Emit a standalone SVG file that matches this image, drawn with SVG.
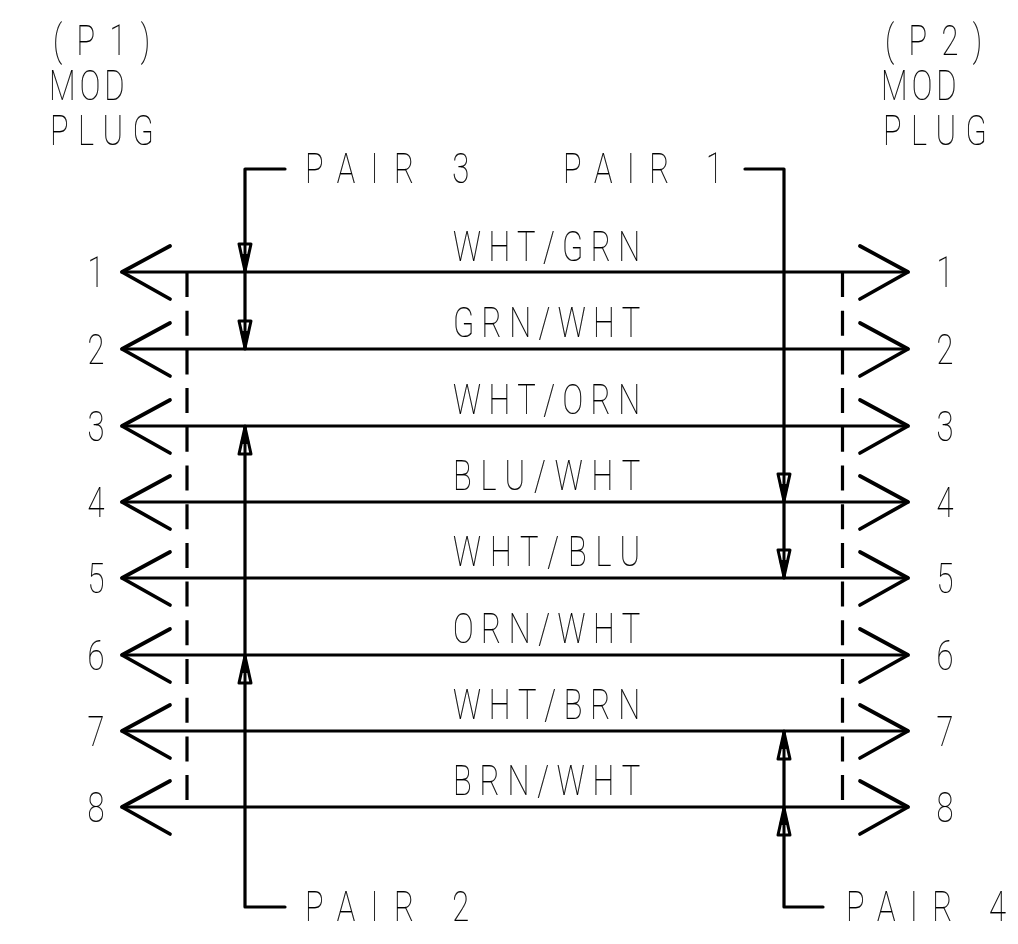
<svg xmlns="http://www.w3.org/2000/svg" xmlns:xlink="http://www.w3.org/1999/xlink" width="1018" height="944" viewBox="0 0 1018 944">
<style>
text{font-family:Roboto,"Liberation Sans",sans-serif;font-weight:100;font-size:43px;fill:#000;stroke:#000;stroke-width:.2}
.t{filter:url(#gray)}
.w{fill:none;stroke:#000;stroke-width:3.2;stroke-linecap:round;stroke-linejoin:round}
.c{fill:none;stroke:#000;stroke-width:3.7;stroke-linecap:round;stroke-linejoin:round}
.d{fill:none;stroke:#000;stroke-width:3.2;stroke-dasharray:25 13.7}
.a{fill:#fff;stroke:#000;stroke-width:3;stroke-linejoin:round}
</style>
<defs>
<filter id="gray" filterUnits="userSpaceOnUse" x="0" y="0" width="1018" height="944" color-interpolation-filters="sRGB"><feOffset dx="0" dy="0"/></filter>
<g id="chev"><path class="c" d="M48 -26L0 0L48 27"/></g>
<g id="down"><path class="a" d="M-6 -28H6L0 -1Z"/><path d="M-1.5 -29H1.5V0H-1.5Z"/><path d="M-5 -18H5L0 0Z"/></g>
</defs>
<rect width="1018" height="944" fill="#fff"/>
<g id="connectors">
<path class="w" d="M122 272H908M122 349H908M122 426H908M122 502H908M122 578H908M122 655H908M122 731H908M122 807H908"/>
<path class="d" d="M187 272V803M842.5 272V803"/>
<path class="w" d="M285 169H245V349M745 169H784V578M285 907H245V426M823 907H784V731"/>
<use xlink:href="#down" href="#down" x="245" y="272"/>
<use xlink:href="#down" href="#down" x="245" y="349"/>
<use xlink:href="#down" href="#down" x="784" y="502"/>
<use xlink:href="#down" href="#down" x="784" y="578"/>
<use xlink:href="#down" href="#down" transform="translate(245 426) scale(1 -1)"/>
<use xlink:href="#down" href="#down" transform="translate(245 655) scale(1 -1)"/>
<use xlink:href="#down" href="#down" transform="translate(784 731) scale(1 -1)"/>
<use xlink:href="#down" href="#down" transform="translate(784 807) scale(1 -1)"/>
</g>
<g id="p1-plug">
<g class="t">
<text transform="translate(53 55) scale(.72 1)" textLength="135" lengthAdjust="spacing">(P1)</text>
<text transform="translate(49 100) scale(.72 1)" textLength="105" lengthAdjust="spacing">MOD</text>
<text transform="translate(50 145) scale(.72 1)" textLength="144" lengthAdjust="spacing">PLUG</text>
</g>
<use xlink:href="#chev" href="#chev" x="122" y="272"/><use xlink:href="#chev" href="#chev" x="122" y="349"/><use xlink:href="#chev" href="#chev" x="122" y="426"/><use xlink:href="#chev" href="#chev" x="122" y="502"/><use xlink:href="#chev" href="#chev" x="122" y="578"/><use xlink:href="#chev" href="#chev" x="122" y="655"/><use xlink:href="#chev" href="#chev" x="122" y="731"/><use xlink:href="#chev" href="#chev" x="122" y="807"/>
<g text-anchor="middle" class="t">
<text transform="translate(96 287) scale(.72 1)">1</text>
<text transform="translate(96 364) scale(.72 1)">2</text>
<text transform="translate(96 441) scale(.72 1)">3</text>
<text transform="translate(96 517) scale(.72 1)">4</text>
<text transform="translate(96 593) scale(.72 1)">5</text>
<text transform="translate(96 670) scale(.72 1)">6</text>
<text transform="translate(96 746) scale(.72 1)">7</text>
<text transform="translate(96 822) scale(.72 1)">8</text>
</g>
</g>
<g id="p2-plug">
<g class="t">
<text transform="translate(885 55) scale(.72 1)" textLength="135" lengthAdjust="spacing">(P2)</text>
<text transform="translate(881 100) scale(.72 1)" textLength="105" lengthAdjust="spacing">MOD</text>
<text transform="translate(883 145) scale(.72 1)" textLength="144" lengthAdjust="spacing">PLUG</text>
</g>
<g transform="translate(1030 0) scale(-1 1)"><use xlink:href="#chev" href="#chev" x="122" y="272"/><use xlink:href="#chev" href="#chev" x="122" y="349"/><use xlink:href="#chev" href="#chev" x="122" y="426"/><use xlink:href="#chev" href="#chev" x="122" y="502"/><use xlink:href="#chev" href="#chev" x="122" y="578"/><use xlink:href="#chev" href="#chev" x="122" y="655"/><use xlink:href="#chev" href="#chev" x="122" y="731"/><use xlink:href="#chev" href="#chev" x="122" y="807"/></g>
<g text-anchor="middle" class="t">
<text transform="translate(945 287) scale(.72 1)">1</text>
<text transform="translate(945 364) scale(.72 1)">2</text>
<text transform="translate(945 441) scale(.72 1)">3</text>
<text transform="translate(945 517) scale(.72 1)">4</text>
<text transform="translate(945 593) scale(.72 1)">5</text>
<text transform="translate(945 670) scale(.72 1)">6</text>
<text transform="translate(945 746) scale(.72 1)">7</text>
<text transform="translate(945 822) scale(.72 1)">8</text>
</g>
</g>
<g id="pair-labels" class="t">
<text transform="translate(305 183) scale(.72 1)" textLength="228" lengthAdjust="spacing" xml:space="preserve">PAIR 3</text>
<text transform="translate(563 183) scale(.72 1)" textLength="222" lengthAdjust="spacing" xml:space="preserve">PAIR 1</text>
<text transform="translate(305 921) scale(.72 1)" textLength="228" lengthAdjust="spacing" xml:space="preserve">PAIR 2</text>
<text transform="translate(846 921) scale(.72 1)" textLength="222" lengthAdjust="spacing" xml:space="preserve">PAIR 4</text>
</g>
<g id="wire-labels" class="t">
<text transform="translate(453 261) scale(.72 1)" textLength="260" lengthAdjust="spacing">WHT/GRN</text>
<text transform="translate(453 337) scale(.72 1)" textLength="260" lengthAdjust="spacing">GRN/WHT</text>
<text transform="translate(453 414) scale(.72 1)" textLength="260" lengthAdjust="spacing">WHT/ORN</text>
<text transform="translate(453 490) scale(.72 1)" textLength="260" lengthAdjust="spacing">BLU/WHT</text>
<text transform="translate(453 566) scale(.72 1)" textLength="260" lengthAdjust="spacing">WHT/BLU</text>
<text transform="translate(453 643) scale(.72 1)" textLength="260" lengthAdjust="spacing">ORN/WHT</text>
<text transform="translate(453 719) scale(.72 1)" textLength="260" lengthAdjust="spacing">WHT/BRN</text>
<text transform="translate(453 795) scale(.72 1)" textLength="260" lengthAdjust="spacing">BRN/WHT</text>
</g>
</svg>
